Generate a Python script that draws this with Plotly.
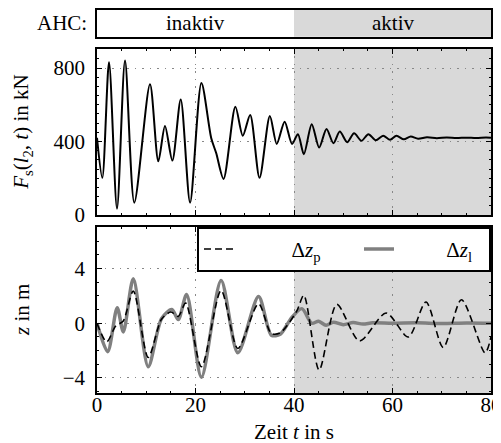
import plotly.graph_objects as go

# ---- data ----
t_F = [0, 1.08, 2.44, 4.06, 5.69, 7.58, 10.76, 12.45, 13.8, 15.3, 17.0, 18.9, 21.2, 23.2, 24.2, 25.7,
       28.1, 29.6, 31.1, 33.0, 35.1, 36.5, 38.1, 39.6, 40.8, 42.0, 43.6, 45.1, 46.6, 48.0, 49.3, 50.8,
       52.2, 53.7, 55.1, 56.6, 58.1, 59.5, 60.8, 62.3, 63.7, 65.2, 67, 69, 71, 73, 75, 77, 79, 80]
F_s = [420, 202, 832, 34, 841, 67, 712, 292, 485, 296, 629, 67, 719, 418, 337, 196,
       589, 431, 544, 202, 539, 387, 508, 387, 440, 331, 494, 367, 468, 391, 454, 396,
       445, 404, 440, 407, 432, 409, 431, 412, 427, 415, 423, 418, 422, 419, 421, 419, 422, 420]

t_p = [0, 1.97, 3.8, 5.3, 7.37, 10.4, 13.1, 15.0, 16.5, 18.0, 21.2, 25.2, 28.6, 32.8, 35.4, 37.2,
       40.5, 42.0, 45.1, 48.7, 53.3, 58.7, 63.2, 66.8, 70.3, 74.0, 78.8, 80]
dz_p = [0, -1.36, -0.2, 0.15, 2.35, -2.5, 0.3, 0.82, 0.5, 1.48, -3.18, 2.4, -1.84, 1.43, -0.75, -0.7,
        0.85, 2.04, -3.42, 1.38, -1.29, 0.75, -1.0, 1.55, -1.77, 1.72, -2.16, -1.0]

t_l = [0, 2.17, 4.1, 5.35, 7.37, 10.4, 13.1, 15.2, 16.5, 18.2, 21.2, 25.2, 28.6, 32.8, 35.4, 37.2,
       39.5, 41.6, 43.6, 45.0, 46.5, 48, 50, 52, 54, 56, 60, 65, 70, 75, 80]
dz_l = [0, -2.08, 1.14, -0.63, 3.25, -3.18, 0.34, 1.0, 0.27, 2.1, -3.95, 3.13, -2.16, 1.96, -0.87, -0.8,
        0.4, 1.07, 0.0, 0.15, -0.15, 0.08, -0.1, 0.05, -0.06, 0.03, 0, 0.03, -0.02, 0.02, 0]

ahc_on = 40          # time at which AHC becomes active
t_max = 80
x_ticks = [0, 20, 40, 60, 80]
F_ticks = [0, 400, 800]
z_ticks = [-4, 0, 4]
phase_labels = ["inaktiv", "aktiv"]

FONT = "Times New Roman, Tinos, Liberation Serif, Noto Serif, DejaVu Serif, serif"
FS = 21
GRAY_BG = "#d9d9d9"
PAD_P = "\u00a0" * 10   # gap between legend sample and label
PAD_L = "\u00a0" * 9

fig = go.Figure()

fig.add_trace(go.Scatter(x=t_F, y=F_s, mode="lines", line=dict(color="black", width=2, shape="spline", smoothing=0.8),
                         xaxis="x2", yaxis="y2", showlegend=False))
fig.add_trace(go.Scatter(x=t_l, y=dz_l, mode="lines", name=PAD_L + "Δ<i>z</i><sub>l</sub>", legendwidth=85,
                         line=dict(color="#808080", width=3.5, shape="spline", smoothing=0.8),
                         xaxis="x", yaxis="y"))
fig.add_trace(go.Scatter(x=t_p, y=dz_p, mode="lines", name=PAD_P + "Δ<i>z</i><sub>p</sub>", legendwidth=115,
                         line=dict(color="black", width=1.6, dash="7px,4px", shape="spline", smoothing=0.8),
                         xaxis="x", yaxis="y"))

# page body adds an 8 px offset; figure is sized to fill the rest of the window
H = 385.0
dom_bot = [0, (393 - 226) / H]
dom_top = [(393 - 214) / H, (393 - 47) / H]
dom_bar = [(393 - 35) / H, 1]

common_axis = dict(showline=True, linecolor="black", linewidth=1.5, mirror="ticks",
                   ticks="inside", ticklen=5, tickcolor="black", tickwidth=1,
                   showgrid=True, gridcolor="#888888", griddash="1.5px,6px", gridwidth=1,
                   zeroline=False, automargin=False, ticklabeloverflow="allow",
                   tickfont=dict(family=FONT, size=FS, color="black"))

fig.update_layout(
    width=493, height=435,
    margin=dict(l=89, r=10, t=0, b=50),
    paper_bgcolor="white", plot_bgcolor="white",
    font=dict(family=FONT, size=FS, color="black"),
    xaxis=dict(domain=[0, 1], range=[0, t_max], tickvals=x_ticks, anchor="y",
               ticklabelstandoff=-8,
               minor=dict(ticks="inside", ticklen=2.5, tickcolor="black", dtick=5, showgrid=False),
               **common_axis),
    yaxis=dict(domain=dom_bot, range=[-5.1, 7.05], tickvals=z_ticks, anchor="x",
               ticktext=["−4", "0", "4"], ticklabelstandoff=6,
               minor=dict(ticks="inside", ticklen=2.5, tickcolor="black", dtick=1, showgrid=False),
               **common_axis),
    xaxis2=dict(domain=[0, 1], range=[0, t_max], tickvals=x_ticks, anchor="y2", matches="x",
                showticklabels=False,
                minor=dict(ticks="inside", ticklen=2.5, tickcolor="black", dtick=5, showgrid=False),
                **common_axis),
    yaxis2=dict(domain=dom_top, range=[0, 905], tickvals=F_ticks, anchor="x2", ticklabelstandoff=6,
                minor=dict(ticks="inside", ticklen=2.5, tickcolor="black", dtick=50, showgrid=False),
                **common_axis),
    xaxis3=dict(domain=[0, 1], range=[0, t_max], anchor="y3", showticklabels=False, ticks="",
                showgrid=False, zeroline=False, showline=True, linecolor="black", linewidth=1.5, mirror=True),
    yaxis3=dict(domain=dom_bar, range=[0, 1], anchor="x3", showticklabels=False, ticks="",
                showgrid=False, zeroline=False, showline=True, linecolor="black", linewidth=1.5, mirror=True),
    legend=dict(x=1, xanchor="right", y=dom_bot[1], yanchor="top", orientation="h",
                bordercolor="black", borderwidth=2, bgcolor="white",
                font=dict(family=FONT, size=FS), entrywidthmode="pixels",
                traceorder="reversed"),
)

shapes = []
for xr, yr in (("x", "y"), ("x2", "y2"), ("x3", "y3")):
    shapes.append(dict(type="rect", xref=xr, yref=yr + " domain", x0=ahc_on, x1=t_max, y0=0, y1=1,
                       fillcolor=GRAY_BG, line=dict(width=0), layer="below"))
fig.update_layout(shapes=shapes)

annotations = [
    dict(text=phase_labels[0], x=ahc_on / 2, y=0.5, xref="x3", yref="y3 domain", showarrow=False,
         font=dict(family=FONT, size=FS)),
    dict(text=phase_labels[1], x=(ahc_on + t_max) / 2, y=0.5, xref="x3", yref="y3 domain", showarrow=False,
         font=dict(family=FONT, size=FS)),
    dict(text="AHC:", x=-0.02, xanchor="right", y=(dom_bar[0] + dom_bar[1]) / 2, yanchor="middle",
         xref="paper", yref="paper", showarrow=False, font=dict(family=FONT, size=FS)),
    # axis titles
    dict(text="Zeit <i>t</i> in s", x=0.5, xanchor="center", y=0, yref="paper", yshift=-39,
         yanchor="middle", xref="paper", showarrow=False, font=dict(family=FONT, size=FS)),
    dict(text="<i>F</i><sub>s</sub>(<i>l</i><sub>2</sub>, <i>t</i>) in kN", textangle=-90,
         x=0, xref="paper", xshift=-75, xanchor="center",
         y=(dom_top[0] + dom_top[1]) / 2, yref="paper", yanchor="middle", showarrow=False,
         font=dict(family=FONT, size=FS)),
    dict(text="<i>z</i> in m", textangle=-90,
         x=0, xref="paper", xshift=-75, xanchor="center",
         y=(dom_bot[0] + dom_bot[1]) / 2, yref="paper", yanchor="middle", showarrow=False,
         font=dict(family=FONT, size=FS)),
]
fig.update_layout(annotations=annotations)

fig.write_html("out.html")
